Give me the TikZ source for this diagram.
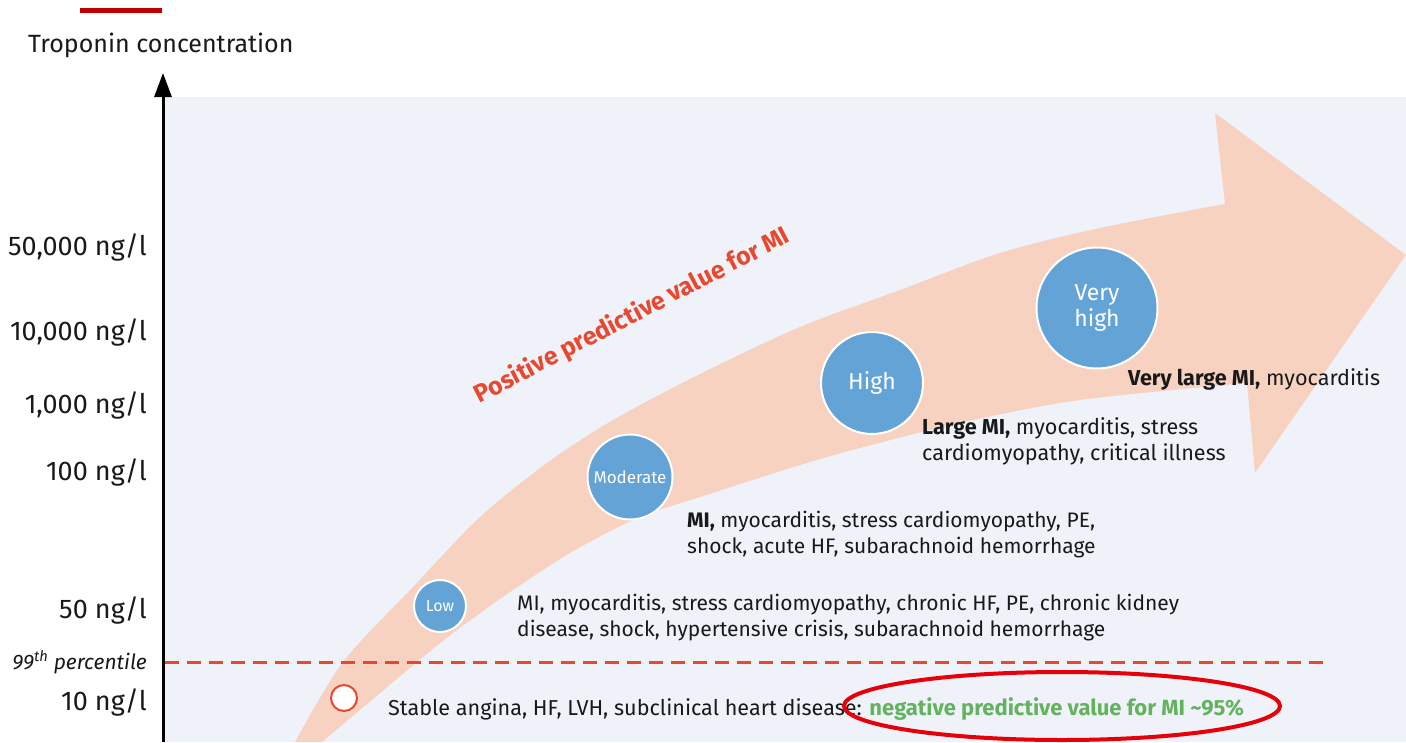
\documentclass[tikz,border=0pt]{standalone}
\usepackage{fontspec}
\setmainfont{Fira Sans}
\usetikzlibrary{arrows.meta,shapes.geometric}
\definecolor{bgl}{RGB}{240,242,250}
\definecolor{peach}{RGB}{247,210,192}
\definecolor{lvblue}{RGB}{99,163,214}
\definecolor{orred}{RGB}{232,73,46}
\definecolor{darkred}{RGB}{192,0,0}
\definecolor{npvgreen}{RGB}{99,178,93}
\definecolor{ellred}{RGB}{230,0,10}
\definecolor{txt}{RGB}{25,25,25}
\begin{document}
\begin{tikzpicture}[x=1pt,y=-1pt,
  ylab/.style={anchor=east,inner sep=0pt,text=txt,font=\fontsize{27}{32}\selectfont},
  desc/.style={anchor=west,align=left,inner sep=0pt,text=txt,font=\fontsize{21.6}{26}\selectfont},
  level/.style={circle,fill=lvblue,draw=white,line width=2pt,text=white,inner sep=0pt,align=center},
]
\useasboundingbox (0,0) rectangle (1406,742);
\fill[white] (0,0) rectangle (1406,742);
\fill[bgl] (165,97) rectangle (1406,742);
\fill[darkred] (80,8) rectangle (162,13);

% big curved arrow
\fill[peach] plot[smooth] coordinates {(295,742) (343,662) (413,587) (480,517) (547,463) (613,420) (700,374) (800,327) (900,290) (1000,253) (1100,228) (1225,204)}
  -- (1215,113) -- (1406,255) -- (1255,473)
  -- plot[smooth] coordinates {(1247,383) (1080,400) (960,423) (827,457) (700,497) (640,517) (575,550) (513,590) (457,630) (417,662) (322,742)} -- cycle;

% axis
\coordinate (axbot) at (163,742);
\coordinate (axtop) at (163,73);
\draw[line width=3pt,-{Triangle[length=24pt,width=17pt]}] (axbot) -- (axtop);
\node[anchor=west,inner sep=0pt,text=txt,font=\fontsize{25}{30}\selectfont] (ytitle) at (28,45) {Troponin concentration};

% percentile line
\coordinate (pl) at (165,662);
\coordinate (pr) at (1325,662);
\draw[orred,line width=3pt,dash pattern=on 14pt off 8pt] (pl) -- (pr);

% y labels
\node[ylab] (y50k) at (147,247) {50,000 ng/l};
\node[ylab] (y10k) at (147,332) {10,000 ng/l};
\node[ylab] (y1k) at (147,405) {1,000 ng/l};
\node[ylab] (y100) at (147,472) {100 ng/l};
\node[ylab] (y50) at (147,610) {50 ng/l};
\node[ylab,font=\itshape\fontsize{21}{26}\selectfont] (y99) at (147,662) {99\textsuperscript{th} percentile};
\node[ylab] (y10) at (147,702) {10 ng/l};

% level circles
\node[circle,fill=white,draw=orred,line width=2pt,minimum size=26pt,inner sep=0pt] (none) at (344,698) {};
\node[level,minimum size=52pt,font=\fontsize{16}{18}\selectfont] (low) at (440,606) {Low};
\node[level,minimum size=85pt,font=\fontsize{17}{19}\selectfont] (mod) at (630,477) {Moderate};
\node[level,minimum size=102pt,font=\fontsize{23}{26}\selectfont] (high) at (872,383) {High};
\node[level,minimum size=121pt,font=\fontsize{23}{26}\selectfont] (vhigh) at (1097,308) {Very\\high};

% PPV label
\node[rotate=27.5,inner sep=0pt,text=orred,font=\bfseries\fontsize{25}{30}\selectfont] (ppv) at (632,316) {Positive predictive value for MI};

% descriptions
\node[desc] (d1) at (388,709) {Stable angina, HF, LVH, subclinical heart disease: {\color{npvgreen}\bfseries\fontsize{22}{26}\selectfont negative predictive value for MI {\char"7E}95\%}};
\node[ellipse,draw=ellred,line width=4pt,minimum width=436pt,minimum height=68pt] (ring) at (1062,706) {};
\node[desc,font=\fontsize{21}{26}\selectfont] (d2) at (517,618) {MI, myocarditis, stress cardiomyopathy, chronic HF, PE, chronic kidney\\disease, shock, hypertensive crisis, subarachnoid hemorrhage};
\node[desc,font=\fontsize{21}{26}\selectfont] (d3) at (687,535) {\textbf{MI,} myocarditis, stress cardiomyopathy, PE,\\shock, acute HF, subarachnoid hemorrhage};
\node[desc] (d4) at (922,441) {\textbf{Large MI,} myocarditis, stress\\cardiomyopathy, critical illness};
\node[desc] (d5) at (1128,379) {\textbf{Very large MI,} myocarditis};
\end{tikzpicture}
\end{document}
